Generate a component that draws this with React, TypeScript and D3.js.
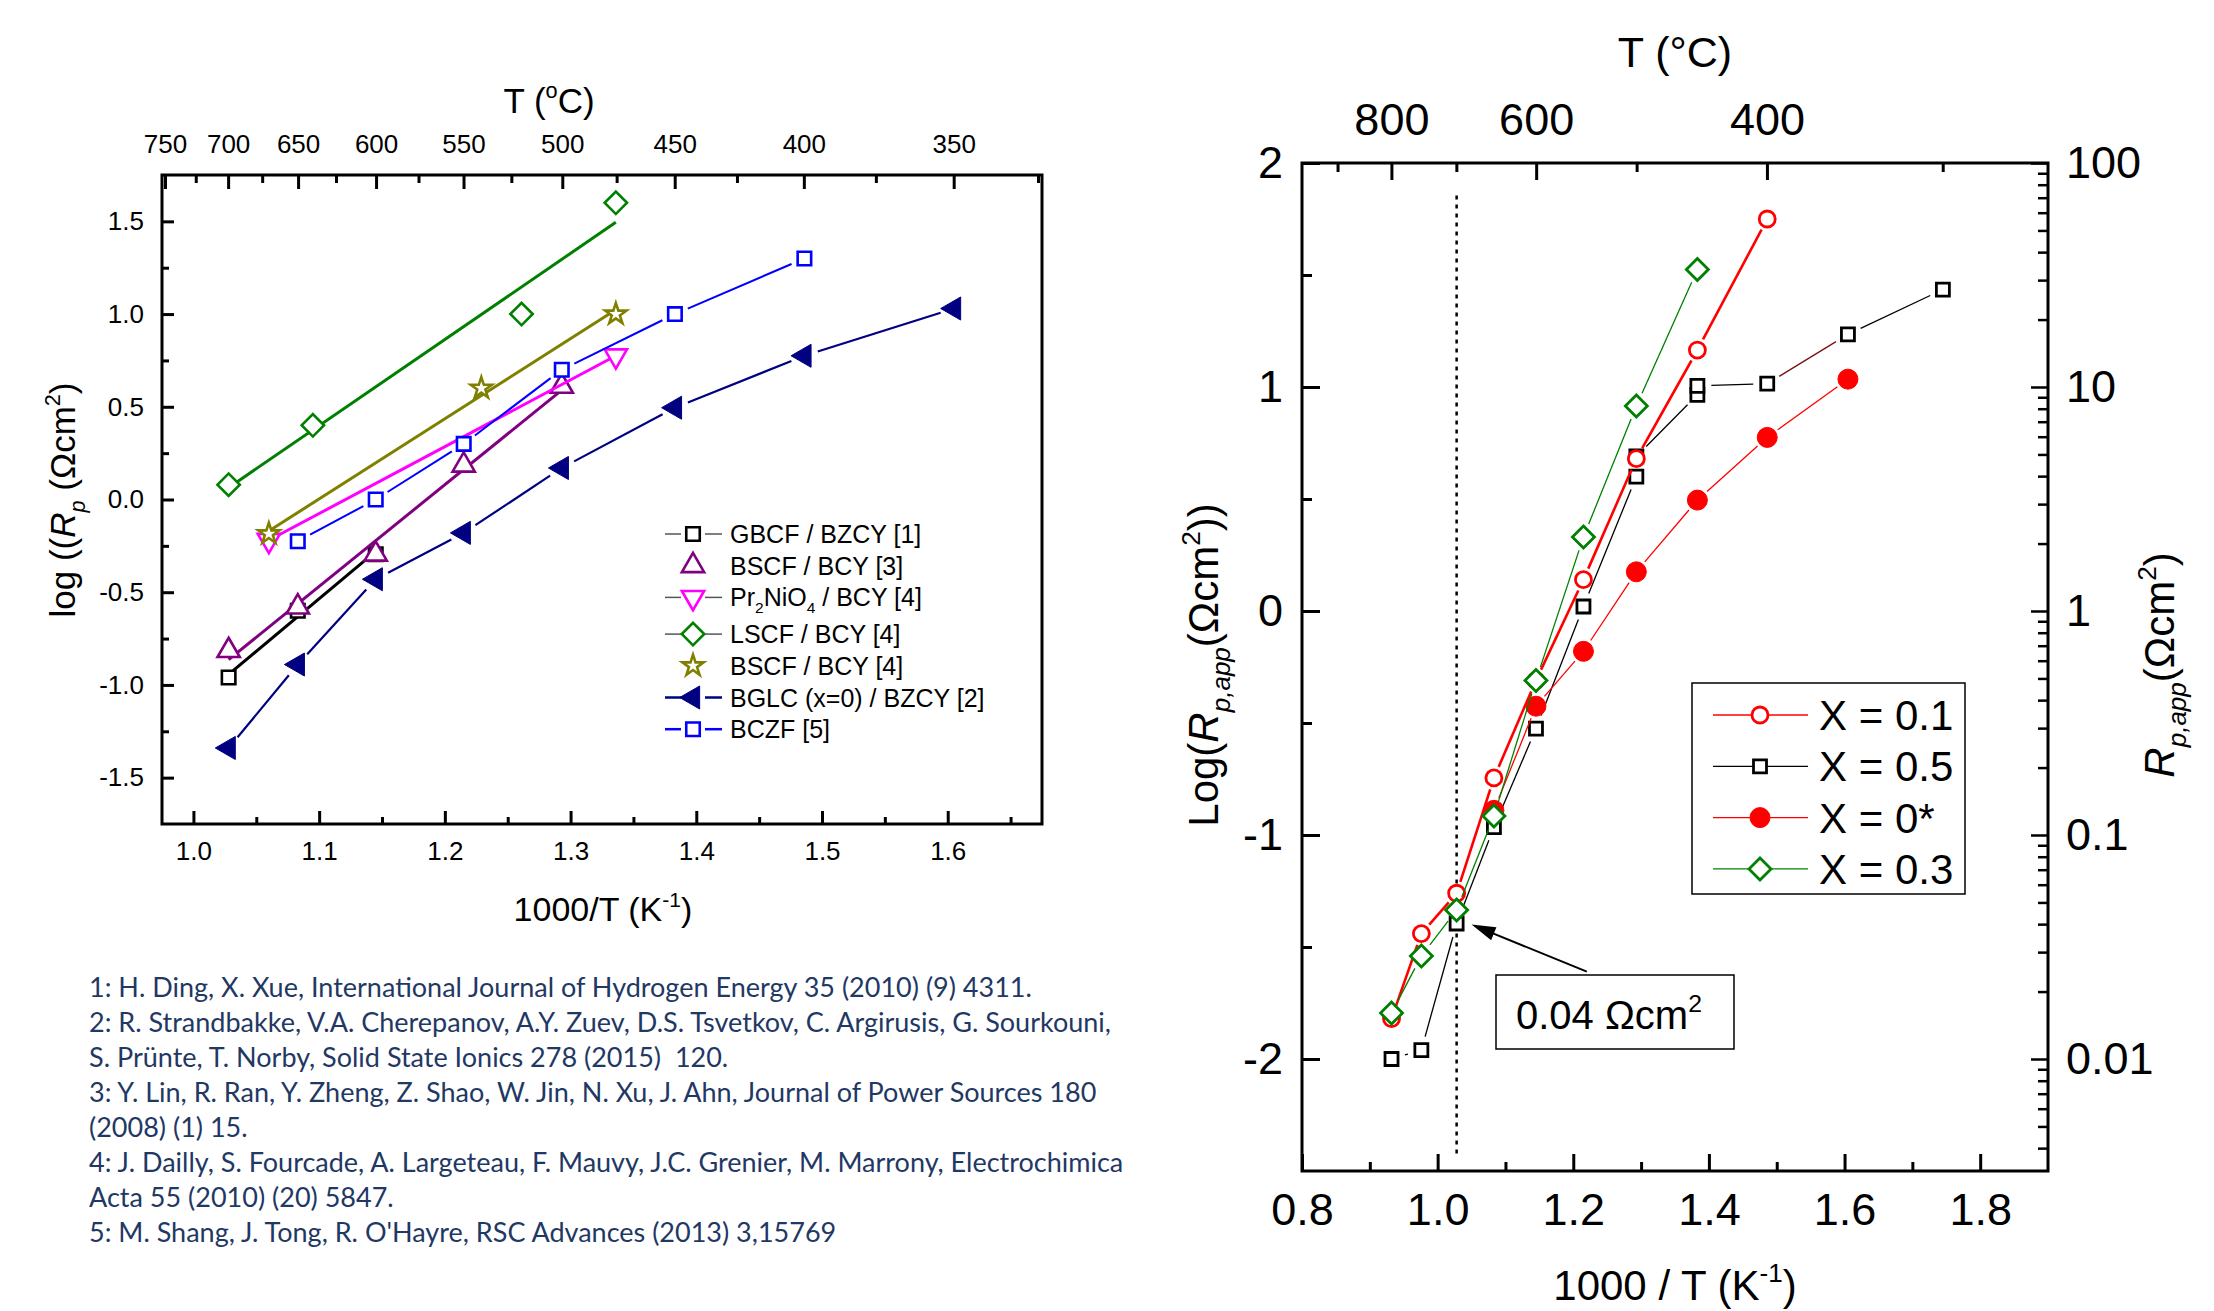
import React, { useEffect, useRef } from "react";
import * as d3 from "d3";

const W = 2214;
const H = 1311;
const FONT = "'Liberation Sans', Arial, sans-serif";

// ---------- left panel: log(Rp) vs 1000/T, literature data ----------
const leftXTicks = [1.0, 1.1, 1.2, 1.3, 1.4, 1.5, 1.6];
const leftXMinor = [1.05, 1.15, 1.25, 1.35, 1.45, 1.55, 1.65];
const leftYTicks = [-1.5, -1.0, -0.5, 0.0, 0.5, 1.0, 1.5];
const leftYMinor = [-1.25, -0.75, -0.25, 0.25, 0.75, 1.25];
const leftTopT = [750, 700, 650, 600, 550, 500, 450, 400, 350];
const leftTopMinorT = [725, 675, 625, 575, 525, 475, 425, 375, 325];

const gbcfX = [1.028, 1.083, 1.145];
const gbcfY = [-0.96, -0.6, -0.295];
const bscf3X = [1.028, 1.083, 1.145, 1.215, 1.293];
const bscf3Y = [-0.815, -0.58, -0.295, 0.185, 0.61];
const pr2X = [1.06, 1.336];
const pr2Y = [-0.22, 0.775];
const lscfX = [1.028, 1.095, 1.261, 1.336];
const lscfY = [0.08, 0.4, 1.0, 1.6];
const bscf4X = [1.06, 1.229, 1.336];
const bscf4Y = [-0.185, 0.6, 1.0];
const bglcX = [1.028, 1.083, 1.145, 1.215, 1.293, 1.383, 1.486, 1.605];
const bglcY = [-1.34, -0.89, -0.43, -0.18, 0.17, 0.495, 0.775, 1.03];
const bczfX = [1.083, 1.145, 1.215, 1.293, 1.383, 1.486];
const bczfY = [-0.225, 0.0, 0.3, 0.7, 1.0, 1.3];

// ---------- right panel: log(Rp,app) vs 1000/T ----------
const rightXTicks = [0.8, 1.0, 1.2, 1.4, 1.6, 1.8];
const rightXMinor = [0.9, 1.1, 1.3, 1.5, 1.7];
const rightYTicks = [-2, -1, 0, 1, 2];
const rightYMinor = [-1.5, -0.5, 0.5, 1.5];
const rightTopT = [800, 600, 400];
const rightTopMinorT = [900, 700, 500, 300];
const rightRTicks = [0.01, 0.1, 1, 10, 100];

const x01X = [0.932, 0.976, 1.028, 1.083, 1.145, 1.215, 1.293, 1.383, 1.486];
const x01Y = [-1.82, -1.44, -1.26, -0.745, -0.31, 0.14, 0.68, 1.165, 1.75];
const x05X = [0.932, 0.976, 1.028, 1.083, 1.145, 1.215, 1.293, 1.293, 1.383, 1.383, 1.486, 1.605, 1.745];
const x05Y = [-2.0, -1.96, -1.395, -0.965, -0.525, 0.02, 0.6, 0.69, 0.965, 1.005, 1.015, 1.235, 1.435];
const x0X = [1.083, 1.145, 1.215, 1.293, 1.383, 1.486, 1.605];
const x0Y = [-0.89, -0.425, -0.18, 0.175, 0.495, 0.775, 1.035];
const x03X = [0.932, 0.976, 1.028, 1.083, 1.145, 1.215, 1.293, 1.383];
const x03Y = [-1.795, -1.54, -1.335, -0.915, -0.31, 0.33, 0.915, 1.525];

const references = [
  "1: H. Ding, X. Xue, International Journal of Hydrogen Energy 35 (2010) (9) 4311.",
  "2: R. Strandbakke, V.A. Cherepanov, A.Y. Zuev, D.S. Tsvetkov, C. Argirusis, G. Sourkouni,",
  "S. Prünte, T. Norby, Solid State Ionics 278 (2015)  120.",
  "3: Y. Lin, R. Ran, Y. Zheng, Z. Shao, W. Jin, N. Xu, J. Ahn, Journal of Power Sources 180",
  "(2008) (1) 15.",
  "4: J. Dailly, S. Fourcade, A. Largeteau, F. Mauvy, J.C. Grenier, M. Marrony, Electrochimica",
  "Acta 55 (2010) (20) 5847.",
  "5: M. Shang, J. Tong, R. O'Hayre, RSC Advances (2013) 3,15769",
];

type Sym = "square" | "circle" | "diamond" | "triUp" | "triDown" | "triLeft" | "star";
type Part = { t: string; i?: boolean; sub?: boolean; sup?: boolean };

const inv = (t: number) => 1000 / (t + 273.15);

function symPath(sym: Sym, size: number) {
  const types: any = {
    square: d3.symbolSquare,
    circle: d3.symbolCircle,
    diamond: d3.symbolSquare,
    triUp: d3.symbolTriangle,
    triDown: d3.symbolTriangle,
    triLeft: d3.symbolTriangle,
    star: d3.symbolStar,
  };
  return d3.symbol().type(types[sym]).size(size)() as string;
}
const symRot: any = { diamond: 45, triDown: 180, triLeft: -90 };

function marker(g: any, sym: Sym, cx: number, cy: number, color: string, size: number, sw: number, filled = false) {
  g.append("path")
    .attr("d", symPath(sym, size))
    .attr("transform", `translate(${cx},${cy}) rotate(${symRot[sym] || 0})`)
    .attr("fill", filled ? color : "#fff")
    .attr("stroke", color)
    .attr("stroke-width", filled ? 1 : sw)
    .attr("stroke-linejoin", "miter");
}

// line segments that stop short of the symbols (Origin "gap to symbol")
function gapLines(g: any, pts: [number, number][], gap: number, color: string, width: number, segColors: any = {}) {
  for (let i = 0; i < pts.length - 1; i++) {
    const [x1, y1] = pts[i];
    const [x2, y2] = pts[i + 1];
    const dx = x2 - x1, dy = y2 - y1;
    const len = Math.hypot(dx, dy);
    if (len <= 2 * gap + 1) continue;
    const ux = dx / len, uy = dy / len;
    g.append("line")
      .attr("x1", x1 + ux * gap).attr("y1", y1 + uy * gap)
      .attr("x2", x2 - ux * gap).attr("y2", y2 - uy * gap)
      .attr("stroke", segColors[i] || color).attr("stroke-width", width);
  }
}

// least squares straight line through a series
function fitLine(xs: number[], ys: number[]) {
  const mx = d3.mean(xs)!, my = d3.mean(ys)!;
  let sxy = 0, sxx = 0;
  xs.forEach((x, i) => { sxy += (x - mx) * (ys[i] - my); sxx += (x - mx) * (x - mx); });
  const b = sxy / sxx;
  const x0 = d3.min(xs)!, x1 = d3.max(xs)!;
  return [[x0, my + b * (x0 - mx)], [x1, my + b * (x1 - mx)]];
}

function richText(g: any, parts: Part[], fs: number) {
  const txt = g.append("text").attr("font-family", FONT).attr("font-size", fs).attr("fill", "#000");
  let cur = 0;
  parts.forEach((p) => {
    const target = p.sub ? 0.28 * fs : p.sup ? -0.42 * fs : 0;
    const ts = txt.append("tspan").attr("dy", target - cur).text(p.t);
    if (p.sub || p.sup) ts.attr("font-size", fs * 0.62);
    if (p.i) ts.attr("font-style", "italic");
    cur = target;
  });
  return txt;
}

function putAxis(g: any, transform: string, axis: any, fs: number, tickW = 3) {
  const a = g.append("g").attr("transform", transform).call(axis);
  a.select(".domain").remove();
  a.selectAll("line").attr("stroke", "#000").attr("stroke-width", tickW);
  a.selectAll("text").attr("font-size", fs).attr("font-family", FONT).attr("fill", "#000");
  return a;
}

function drawLeft(svg: any) {
  const x = d3.scaleLinear().domain([0.975, 1.675]).range([162, 1042]);
  const y = d3.scaleLinear().domain([-1.75, 1.75]).range([824, 175]);
  const g = svg.append("g");
  const fs = 26;
  const none = () => "";

  // axes with inward ticks
  putAxis(g, "translate(0,824)", d3.axisBottom(x).tickValues(leftXTicks).tickFormat((d: any) => d.toFixed(1)).tickSizeInner(-13).tickSizeOuter(0).tickPadding(18), fs);
  putAxis(g, "translate(0,824)", d3.axisBottom(x).tickValues(leftXMinor).tickFormat(none).tickSizeInner(-7).tickSizeOuter(0), fs);
  putAxis(g, "translate(162,0)", d3.axisLeft(y).tickValues(leftYTicks).tickFormat((d: any) => d.toFixed(1)).tickSizeInner(-12).tickSizeOuter(0).tickPadding(18), fs);
  putAxis(g, "translate(162,0)", d3.axisLeft(y).tickValues(leftYMinor).tickFormat(none).tickSizeInner(-7).tickSizeOuter(0), fs);
  putAxis(g, "translate(0,175)", d3.axisTop(x).tickValues(leftTopT.map(inv)).tickFormat((d: any, i: number) => String(leftTopT[i])).tickSizeInner(-14).tickSizeOuter(0).tickPadding(22), fs);
  putAxis(g, "translate(0,175)", d3.axisTop(x).tickValues(leftTopMinorT.map(inv)).tickFormat(none).tickSizeInner(-8).tickSizeOuter(0), fs);

  g.append("rect").attr("x", 162).attr("y", 175).attr("width", 880).attr("height", 649)
    .attr("fill", "none").attr("stroke", "#000").attr("stroke-width", 3);

  // titles
  richText(g, [{ t: "T (" }, { t: "o", sup: true }, { t: "C)" }], 35)
    .attr("x", 549).attr("y", 113).attr("text-anchor", "middle");
  richText(g, [{ t: "1000/T (K" }, { t: "-1", sup: true }, { t: ")" }], 34)
    .attr("x", 603).attr("y", 921).attr("text-anchor", "middle");
  richText(g, [{ t: "log ((" }, { t: "R", i: true }, { t: "p", i: true, sub: true }, { t: " (Ωcm" }, { t: "2", sup: true }, { t: ")" }], 35)
    .attr("text-anchor", "middle").attr("transform", "translate(75,500) rotate(-90)");

  const series = [
    { label: [{ t: "GBCF / BZCY [1]" }], xs: gbcfX, ys: gbcfY, color: "#000", sym: "square", size: 182, fit: true, lw: 3, leg: "#555", legW: 1.5, filled: false },
    { label: [{ t: "BSCF / BCY  [3]" }], xs: bscf3X, ys: bscf3Y, color: "#800080", sym: "triUp", size: 215, fit: true, lw: 3, leg: null, legW: 0, filled: false },
    { label: [{ t: "Pr" }, { t: "2", sub: true }, { t: "NiO" }, { t: "4", sub: true }, { t: " / BCY [4]" }], xs: pr2X, ys: pr2Y, color: "#ff00ff", sym: "triDown", size: 215, fit: true, lw: 3, leg: "#555", legW: 1.5, filled: false },
    { label: [{ t: "LSCF / BCY [4]" }], xs: lscfX, ys: lscfY, color: "#008000", sym: "diamond", size: 250, fit: true, lw: 3, leg: "#555", legW: 1.5, filled: false },
    { label: [{ t: "BSCF / BCY [4]" }], xs: bscf4X, ys: bscf4Y, color: "#808000", sym: "star", size: 140, fit: true, lw: 3, leg: null, legW: 0, filled: false },
    { label: [{ t: "BGLC (x=0) / BZCY [2]" }], xs: bglcX, ys: bglcY, color: "#000080", sym: "triLeft", size: 230, fit: false, lw: 2.2, leg: "#000080", legW: 2.5, filled: true },
    { label: [{ t: "BCZF [5]" }], xs: bczfX, ys: bczfY, color: "#0000ff", sym: "square", size: 182, fit: false, lw: 2, leg: "#0000ff", legW: 2.5, filled: false },
  ];

  series.forEach((s) => {
    if (s.fit) {
      const [[ax, ay], [bx, by]] = fitLine(s.xs, s.ys);
      g.append("line").attr("x1", x(ax)).attr("y1", y(ay)).attr("x2", x(bx)).attr("y2", y(by))
        .attr("stroke", s.color).attr("stroke-width", s.lw);
    } else {
      gapLines(g, s.xs.map((v, i) => [x(v), y(s.ys[i])] as [number, number]), 14, s.color, s.lw);
    }
    s.xs.forEach((v, i) => marker(g, s.sym as Sym, x(v), y(s.ys[i]), s.color, s.size, 2.6, s.filled));
  });

  // legend
  series.forEach((s, i) => {
    const ly = 534 + i * 31.7 + (i >= 3 ? 5 : 0);
    if (s.leg) {
      g.append("line").attr("x1", 665).attr("x2", 681).attr("y1", ly).attr("y2", ly).attr("stroke", s.leg).attr("stroke-width", s.legW);
      g.append("line").attr("x1", 705).attr("x2", 722).attr("y1", ly).attr("y2", ly).attr("stroke", s.leg).attr("stroke-width", s.legW);
    }
    marker(g, s.sym as Sym, 693, ly, s.color, s.size, 2.6, s.filled);
    richText(g, s.label as Part[], 25).attr("x", 730).attr("y", ly + 9);
  });
}

function drawRight(svg: any) {
  const x = d3.scaleLinear().domain([0.8, 1.9]).range([1302, 2048]);
  const y = d3.scaleLinear().domain([-2.5, 2]).range([1171, 163]);
  const g = svg.append("g");
  const fs = 45;
  const none = () => "";

  putAxis(g, "translate(0,1171)", d3.axisBottom(x).tickValues(rightXTicks).tickFormat((d: any) => d.toFixed(1)).tickSizeInner(-17).tickSizeOuter(0).tickPadding(22), fs);
  putAxis(g, "translate(0,1171)", d3.axisBottom(x).tickValues(rightXMinor).tickFormat(none).tickSizeInner(-9).tickSizeOuter(0), fs);
  putAxis(g, "translate(1302,0)", d3.axisLeft(y).tickValues(rightYTicks).tickFormat((d: any) => String(d)).tickSizeInner(-18).tickSizeOuter(0).tickPadding(19), fs);
  putAxis(g, "translate(1302,0)", d3.axisLeft(y).tickValues(rightYMinor).tickFormat(none).tickSizeInner(-10).tickSizeOuter(0), fs);
  putAxis(g, "translate(0,163)", d3.axisTop(x).tickValues(rightTopT.map(inv)).tickFormat((d: any, i: number) => String(rightTopT[i])).tickSizeInner(-17).tickSizeOuter(0).tickPadding(28), fs);
  putAxis(g, "translate(0,163)", d3.axisTop(x).tickValues(rightTopMinorT.map(inv)).tickFormat(none).tickSizeInner(-9).tickSizeOuter(0), fs);

  // right log axis: R = 10^y
  const logMinor: number[] = [];
  for (let n = -3; n <= 1; n++) for (let k = 2; k <= 9; k++) {
    const v = Math.log10(k * Math.pow(10, n));
    if (v > -2.5 && v < 2) logMinor.push(v);
  }
  putAxis(g, "translate(2048,0)", d3.axisRight(y).tickValues(rightRTicks.map(Math.log10)).tickFormat((d: any, i: number) => String(rightRTicks[i])).tickSizeInner(-17).tickSizeOuter(0).tickPadding(18), fs, 2.5);
  putAxis(g, "translate(2048,0)", d3.axisRight(y).tickValues(logMinor).tickFormat(none).tickSizeInner(-10).tickSizeOuter(0), fs, 2.5);

  g.append("rect").attr("x", 1302).attr("y", 163).attr("width", 746).attr("height", 1008)
    .attr("fill", "none").attr("stroke", "#000").attr("stroke-width", 3);

  // titles
  richText(g, [{ t: "T (°C)" }], 43).attr("x", 1675).attr("y", 67).attr("text-anchor", "middle");
  richText(g, [{ t: "1000 / T (K" }, { t: "-1", sup: true }, { t: ")" }], 42)
    .attr("x", 1675).attr("y", 1300).attr("text-anchor", "middle");
  richText(g, [{ t: "Log(" }, { t: "R", i: true }, { t: "p,app", i: true, sub: true }, { t: "(Ωcm" }, { t: "2", sup: true }, { t: "))" }], 42)
    .attr("text-anchor", "middle").attr("transform", "translate(1218,665) rotate(-90)");
  richText(g, [{ t: "R", i: true }, { t: "p,app", i: true, sub: true }, { t: "(Ωcm" }, { t: "2", sup: true }, { t: ")" }], 42)
    .attr("text-anchor", "middle").attr("transform", "translate(2174,665) rotate(-90)");

  // dotted line at 700 C
  g.append("line").attr("x1", x(1.028)).attr("x2", x(1.028)).attr("y1", y(1.855)).attr("y2", y(-2.435))
    .attr("stroke", "#000").attr("stroke-width", 2.5).attr("stroke-dasharray", "4,5");

  const series = [
    { label: "X = 0.5", xs: x05X, ys: x05Y, color: "#000", sym: "square", size: 169, filled: false, lw: 1.3, gap: 14, seg: { 10: "#7a1010" } },
    { label: "X = 0*", xs: x0X, ys: x0Y, color: "#ff0000", sym: "circle", size: 314, filled: true, lw: 1.3, gap: 13, seg: {} },
    { label: "X = 0.1", xs: x01X, ys: x01Y, color: "#ff0000", sym: "circle", size: 201, filled: false, lw: 2.6, gap: 12, seg: {} },
    { label: "X = 0.3", xs: x03X, ys: x03Y, color: "#008000", sym: "diamond", size: 242, filled: false, lw: 1.3, gap: 14, seg: {} },
  ];
  series.forEach((s) => {
    gapLines(g, s.xs.map((v, i) => [x(v), y(s.ys[i])] as [number, number]), s.gap, s.color, s.lw, s.seg);
    s.xs.forEach((v, i) => marker(g, s.sym as Sym, x(v), y(s.ys[i]), s.color, s.size, 2.8, s.filled));
  });

  // legend
  g.append("rect").attr("x", 1692).attr("y", 683).attr("width", 273).attr("height", 211)
    .attr("fill", "#fff").attr("stroke", "#000").attr("stroke-width", 1.5);
  const order = [2, 0, 1, 3];
  order.forEach((si, i) => {
    const s = series[si];
    const ly = 715 + i * 51.3;
    g.append("line").attr("x1", 1713).attr("x2", 1808).attr("y1", ly).attr("y2", ly).attr("stroke", s.color).attr("stroke-width", 1.3);
    marker(g, s.sym as Sym, 1760, ly, s.color, s.size, 2.8, s.filled);
    richText(g, [{ t: s.label }], 42).attr("x", 1819).attr("y", ly + 15);
  });

  // annotation
  const tail = [x(1.22), y(-1.61)];
  const tip = [x(1.05), y(-1.4)];
  const dx = tip[0] - tail[0], dy = tip[1] - tail[1];
  const len = Math.hypot(dx, dy);
  const ux = dx / len, uy = dy / len;
  const hl = 24, hw = 7;
  g.append("line").attr("x1", tail[0]).attr("y1", tail[1]).attr("x2", tip[0] - ux * hl * 0.8).attr("y2", tip[1] - uy * hl * 0.8)
    .attr("stroke", "#000").attr("stroke-width", 2);
  g.append("path")
    .attr("d", `M${tip[0]},${tip[1]} L${tip[0] - ux * hl - uy * hw},${tip[1] - uy * hl + ux * hw} L${tip[0] - ux * hl + uy * hw},${tip[1] - uy * hl - ux * hw} Z`)
    .attr("fill", "#000");
  g.append("rect").attr("x", 1496).attr("y", 975).attr("width", 238).attr("height", 74)
    .attr("fill", "#fff").attr("stroke", "#000").attr("stroke-width", 1.5);
  richText(g, [{ t: "0.04 Ωcm" }, { t: "2", sup: true }], 40).attr("x", 1516).attr("y", 1029);
}

function drawRefs(svg: any) {
  const g = svg.append("g");
  references.forEach((line, i) => {
    g.append("text")
      .attr("x", 89).attr("y", 997 + i * 35)
      .attr("font-family", "Lato, 'Open Sans', sans-serif")
      .attr("font-size", 27)
      .attr("fill", "#1f3864")
      .style("white-space", "pre")
      .text(line);
  });
}

export default function App() {
  const ref = useRef<SVGSVGElement>(null);
  useEffect(() => {
    const svg = d3.select(ref.current);
    svg.selectAll("*").remove();
    drawLeft(svg);
    drawRight(svg);
    drawRefs(svg);
  }, []);
  return (
    <svg
      ref={ref}
      width={W}
      height={H}
      style={{ position: "absolute", left: 0, top: 0, background: "#fff", display: "block" }}
    />
  );
}
